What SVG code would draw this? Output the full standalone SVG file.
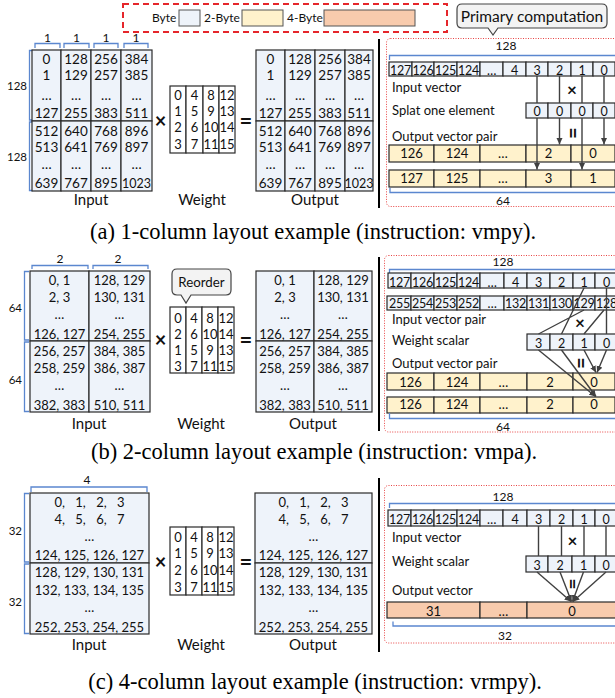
<svg xmlns="http://www.w3.org/2000/svg" width="615" height="698" viewBox="0 0 615 698">
<style>
text{font-family:Lato,'Open Sans','DejaVu Sans',sans-serif;fill:#111}
.m{font-size:13.5px;text-anchor:middle}
.s{font-size:13px;text-anchor:middle}
.v{font-size:12.5px;text-anchor:middle;letter-spacing:-0.3px}
.l{font-size:13px}
.n{font-size:11.5px;text-anchor:end}
.k{font-size:12px;text-anchor:middle}
.h{font-size:15px;text-anchor:middle}
.g{font-size:12px}
.cap{font-family:'Liberation Serif','Times New Roman',serif;font-size:22.5px;text-anchor:middle;fill:#000}
.op{font-weight:bold;text-anchor:middle}
.c1{fill:#EEF3FA;stroke:#2a2a2a;stroke-width:1.2}
.c2{fill:#FFF2CC;stroke:#2a2a2a;stroke-width:1.2}
.c4{fill:#F8CBAD;stroke:#2a2a2a;stroke-width:1.2}
.cw{fill:#fff;stroke:#2a2a2a;stroke-width:1.2}
.br{fill:none;stroke:#5B87CF;stroke-width:1.3}
.cn{fill:none;stroke:#404040;stroke-width:1.4}
.red{fill:none;stroke:#E84545;stroke-width:1;stroke-dasharray:1 1.5}
.sep{stroke:#000;stroke-width:2}
.call{fill:#F3F3F3;stroke:#444;stroke-width:1.2}
.ws{word-spacing:7px}
</style>
<defs>
<marker id="ah" markerWidth="7" markerHeight="7" refX="6.5" refY="3.5" orient="auto" markerUnits="userSpaceOnUse"><path d="M0,0.5 L6.5,3.5 L0,6.5 z" fill="#404040"/></marker>
</defs>

<g id="legend">
<rect x="123" y="4" width="324" height="28" fill="none" stroke="#E5262B" stroke-width="2" stroke-dasharray="6 4"/>
<text class="g" x="152" y="22">Byte</text>
<rect x="179" y="10" width="21" height="16" fill="#EEF3FA" stroke="#555" stroke-width="1"/>
<text class="g" x="204" y="22">2-Byte</text>
<rect x="242" y="10" width="41" height="16" fill="#FFF2CC" stroke="#555" stroke-width="1"/>
<text class="g" x="287" y="22">4-Byte</text>
<rect x="324" y="10" width="91" height="16" fill="#F8CBAD" stroke="#555" stroke-width="1"/>
</g>

<g id="callout-primary">
<path class="call" d="M462,4 H602 Q607,4 607,9 V23 Q607,28 602,28 H498 L493,35 L488,28 H462 Q457,28 457,23 V9 Q457,4 462,4 Z"/>
<text x="532" y="22" style="font-size:15.5px;text-anchor:middle">Primary computation</text>
</g>

<!-- ===== Part (a) ===== -->
<g id="a-input">
<path class="br" d="M35,48 V43.5 H60 V48 M64,48 V43.5 H89 V48 M94,48 V43.5 H118 V48 M124,48 V43.5 H148 V48"/>
<text class="k" x="47.5" y="42">1</text><text class="k" x="76.5" y="42">1</text><text class="k" x="106" y="42">1</text><text class="k" x="136" y="42">1</text>
<path class="br" d="M33,50.5 H29.5 V120 H33 M33,122 H29.5 V190.5 H33"/>
<text class="n" x="27" y="90">128</text><text class="n" x="27" y="161">128</text>
<rect class="c1" x="32" y="50" width="29" height="71"/><rect class="c1" x="61" y="50" width="30" height="71"/><rect class="c1" x="91" y="50" width="30" height="71"/><rect class="c1" x="121" y="50" width="31" height="71"/>
<rect class="c1" x="32" y="121" width="29" height="70"/><rect class="c1" x="61" y="121" width="30" height="70"/><rect class="c1" x="91" y="121" width="30" height="70"/><rect class="c1" x="121" y="121" width="31" height="70"/>
<text class="m"><tspan x="46.5" y="64">0</tspan><tspan x="46.5" y="80">1</tspan><tspan x="46.5" y="100">…</tspan><tspan x="46.5" y="118">127</tspan><tspan x="46.5" y="135.5">512</tspan><tspan x="46.5" y="152">513</tspan><tspan x="46.5" y="169">…</tspan><tspan x="46.5" y="188">639</tspan></text>
<text class="m"><tspan x="76" y="64">128</tspan><tspan x="76" y="80">129</tspan><tspan x="76" y="100">…</tspan><tspan x="76" y="118">255</tspan><tspan x="76" y="135.5">640</tspan><tspan x="76" y="152">641</tspan><tspan x="76" y="169">…</tspan><tspan x="76" y="188">767</tspan></text>
<text class="m"><tspan x="106" y="64">256</tspan><tspan x="106" y="80">257</tspan><tspan x="106" y="100">…</tspan><tspan x="106" y="118">383</tspan><tspan x="106" y="135.5">768</tspan><tspan x="106" y="152">769</tspan><tspan x="106" y="169">…</tspan><tspan x="106" y="188">895</tspan></text>
<text class="m"><tspan x="136.5" y="64">384</tspan><tspan x="136.5" y="80">385</tspan><tspan x="136.5" y="100">…</tspan><tspan x="136.5" y="118">511</tspan><tspan x="136.5" y="135.5">896</tspan><tspan x="136.5" y="152">897</tspan><tspan x="136.5" y="169">…</tspan><tspan x="136.5" y="188" style="font-size:12.5px">1023</tspan></text>
<text class="h" x="91" y="205">Input</text>
</g>
<g id="a-weight">
<rect class="cw" x="170" y="86" width="16" height="67"/><rect class="cw" x="186" y="86" width="17" height="67"/><rect class="cw" x="203" y="86" width="16" height="67"/><rect class="cw" x="219" y="86" width="16" height="67"/>
<text class="s"><tspan x="178" y="100">0</tspan><tspan x="178" y="116">1</tspan><tspan x="178" y="132">2</tspan><tspan x="178" y="149">3</tspan></text>
<text class="s"><tspan x="194.5" y="100">4</tspan><tspan x="194.5" y="116">5</tspan><tspan x="194.5" y="132">6</tspan><tspan x="194.5" y="149">7</tspan></text>
<text class="s"><tspan x="211" y="100">8</tspan><tspan x="211" y="116">9</tspan><tspan x="211" y="132">10</tspan><tspan x="211" y="149">11</tspan></text>
<text class="s"><tspan x="227" y="100">12</tspan><tspan x="227" y="116">13</tspan><tspan x="227" y="132">14</tspan><tspan x="227" y="149">15</tspan></text>
<text class="h" x="202" y="205">Weight</text>
</g>
<text class="op" x="160.5" y="127.5" font-size="20">×</text>
<text class="op" x="246" y="128.5" font-size="22">=</text>
<g id="a-output">
<rect class="c1" x="256" y="50" width="29" height="71"/><rect class="c1" x="285" y="50" width="30" height="71"/><rect class="c1" x="315" y="50" width="30" height="71"/><rect class="c1" x="345" y="50" width="28" height="71"/>
<rect class="c1" x="256" y="121" width="29" height="70"/><rect class="c1" x="285" y="121" width="30" height="70"/><rect class="c1" x="315" y="121" width="30" height="70"/><rect class="c1" x="345" y="121" width="28" height="70"/>
<text class="m"><tspan x="270.5" y="64">0</tspan><tspan x="270.5" y="80">1</tspan><tspan x="270.5" y="100">…</tspan><tspan x="270.5" y="118">127</tspan><tspan x="270.5" y="135.5">512</tspan><tspan x="270.5" y="152">513</tspan><tspan x="270.5" y="169">…</tspan><tspan x="270.5" y="188">639</tspan></text>
<text class="m"><tspan x="300" y="64">128</tspan><tspan x="300" y="80">129</tspan><tspan x="300" y="100">…</tspan><tspan x="300" y="118">255</tspan><tspan x="300" y="135.5">640</tspan><tspan x="300" y="152">641</tspan><tspan x="300" y="169">…</tspan><tspan x="300" y="188">767</tspan></text>
<text class="m"><tspan x="330" y="64">256</tspan><tspan x="330" y="80">257</tspan><tspan x="330" y="100">…</tspan><tspan x="330" y="118">383</tspan><tspan x="330" y="135.5">768</tspan><tspan x="330" y="152">769</tspan><tspan x="330" y="169">…</tspan><tspan x="330" y="188">895</tspan></text>
<text class="m"><tspan x="359" y="64">384</tspan><tspan x="359" y="80">385</tspan><tspan x="359" y="100">…</tspan><tspan x="359" y="118">511</tspan><tspan x="359" y="135.5">896</tspan><tspan x="359" y="152">897</tspan><tspan x="359" y="169">…</tspan><tspan x="359" y="188" style="font-size:12.5px">1023</tspan></text>
<text class="h" x="315" y="205">Output</text>
</g>
<line class="sep" x1="379" y1="39" x2="379" y2="208"/>

<g id="a-primary">
<rect class="red" x="386.5" y="38.5" width="240" height="168" rx="4"/>
<text class="k" x="506" y="50">128</text>
<path class="br" d="M389.5,60 V55.5 H620"/>
<rect class="c1" x="389" y="62" width="23" height="14"/><rect class="c1" x="412" y="62" width="22" height="14"/><rect class="c1" x="434" y="62" width="23" height="14"/><rect class="c1" x="457" y="62" width="23" height="14"/><rect class="c1" x="480" y="62" width="23" height="14"/><rect class="c1" x="503" y="62" width="23" height="14"/><rect class="c1" x="526" y="62" width="22" height="14"/><rect class="c1" x="548" y="62" width="23" height="14"/><rect class="c1" x="571" y="62" width="22" height="14"/><rect class="c1" x="593" y="62" width="22" height="14"/>
<text class="v"><tspan x="400.5" y="74.5">127</tspan><tspan x="423" y="74.5">126</tspan><tspan x="445.5" y="74.5">125</tspan><tspan x="468.5" y="74.5">124</tspan><tspan x="491.5" y="74.5">…</tspan><tspan x="514.5" y="74.5">4</tspan><tspan x="537" y="74.5">3</tspan><tspan x="559.5" y="74.5">2</tspan><tspan x="582" y="74.5">1</tspan><tspan x="604" y="74.5">0</tspan></text>
<text class="l" x="392" y="92">Input vector</text>
<rect class="c1" x="526" y="103" width="22" height="15"/><rect class="c1" x="548" y="103" width="23" height="15"/><rect class="c1" x="571" y="103" width="22" height="15"/><rect class="c1" x="593" y="103" width="22" height="15"/>
<text class="v"><tspan x="537" y="115.5">0</tspan><tspan x="559.5" y="115.5">0</tspan><tspan x="582" y="115.5">0</tspan><tspan x="604" y="115.5">0</tspan></text>
<text class="l" x="392" y="115">Splat one element</text>
<text class="op" x="572" y="95.5" font-size="17">×</text>
<text class="l" x="392" y="141">Output vector pair</text>
<text class="op" font-size="20" transform="translate(572,133) rotate(90)" x="0" y="6.5">=</text>
<rect class="c2" x="389" y="145" width="45" height="17"/><rect class="c2" x="434" y="145" width="46" height="17"/><rect class="c2" x="480" y="145" width="46" height="17"/><rect class="c2" x="526" y="145" width="45" height="17"/><rect class="c2" x="571" y="145" width="44" height="17"/>
<rect class="c2" x="389" y="170" width="45" height="17"/><rect class="c2" x="434" y="170" width="46" height="17"/><rect class="c2" x="480" y="170" width="46" height="17"/><rect class="c2" x="526" y="170" width="45" height="17"/><rect class="c2" x="571" y="170" width="44" height="17"/>
<text class="s"><tspan x="411.5" y="158">126</tspan><tspan x="457" y="158">124</tspan><tspan x="503" y="158">…</tspan><tspan x="548.5" y="158">2</tspan><tspan x="593" y="158">0</tspan></text>
<text class="s"><tspan x="411.5" y="183">127</tspan><tspan x="457" y="183">125</tspan><tspan x="503" y="183">…</tspan><tspan x="548.5" y="183">3</tspan><tspan x="593" y="183">1</tspan></text>
<path class="br" d="M390,188 V192.5 H620"/>
<text class="k" x="503" y="205">64</text>
</g>
<text class="cap" x="313" y="239">(a) 1-column layout example (instruction: vmpy).</text>

<!-- ===== Part (b) ===== -->
<g id="b-input">
<path class="br" d="M32,269 V265.5 H88 V269 M93,269 V265.5 H148 V269"/>
<text class="k" x="60" y="263">2</text><text class="k" x="118" y="263">2</text>
<path class="br" d="M29,271.5 H24.5 V340 H29 M29,342 H24.5 V411.5 H29"/>
<text class="n" x="22" y="312">64</text><text class="n" x="22" y="384">64</text>
<rect class="c1" x="30" y="271" width="59" height="70"/><rect class="c1" x="89" y="271" width="61" height="70"/>
<rect class="c1" x="30" y="341" width="59" height="71"/><rect class="c1" x="89" y="341" width="61" height="71"/>
<text class="s"><tspan x="59.5" y="285">0, 1</tspan><tspan x="59.5" y="302">2, 3</tspan><tspan x="59.5" y="319">…</tspan><tspan x="59.5" y="339">126, 127</tspan><tspan x="59.5" y="355.5">256, 257</tspan><tspan x="59.5" y="373">258, 259</tspan><tspan x="59.5" y="390">…</tspan><tspan x="59.5" y="410">382, 383</tspan></text>
<text class="s"><tspan x="119.5" y="285">128, 129</tspan><tspan x="119.5" y="302">130, 131</tspan><tspan x="119.5" y="319">…</tspan><tspan x="119.5" y="339">254, 255</tspan><tspan x="119.5" y="355.5">384, 385</tspan><tspan x="119.5" y="373">386, 387</tspan><tspan x="119.5" y="390">…</tspan><tspan x="119.5" y="410">510, 511</tspan></text>
<text class="h" x="89" y="429">Input</text>
</g>
<g id="b-weight">
<rect class="cw" x="170" y="307" width="16" height="66"/><rect class="cw" x="186" y="307" width="16" height="66"/><rect class="cw" x="202" y="307" width="16" height="66"/><rect class="cw" x="218" y="307" width="16" height="66"/>
<text class="s"><tspan x="178" y="322.5">0</tspan><tspan x="178" y="339">2</tspan><tspan x="178" y="355">1</tspan><tspan x="178" y="371">3</tspan></text>
<text class="s"><tspan x="194" y="322.5">4</tspan><tspan x="194" y="339">6</tspan><tspan x="194" y="355">5</tspan><tspan x="194" y="371">7</tspan></text>
<text class="s"><tspan x="210" y="322.5">8</tspan><tspan x="210" y="339">10</tspan><tspan x="210" y="355">9</tspan><tspan x="210" y="371">11</tspan></text>
<text class="s"><tspan x="226" y="322.5">12</tspan><tspan x="226" y="339">14</tspan><tspan x="226" y="355">13</tspan><tspan x="226" y="371">15</tspan></text>
<text class="h" x="201" y="429">Weight</text>
</g>
<g id="callout-reorder">
<path class="call" d="M177,269 H226 Q231,269 231,274 V290 Q231,295 226,295 H191 L186,303 L181,295 H177 Q172,295 172,290 V274 Q172,269 177,269 Z"/>
<text x="201.5" y="287" style="font-size:13.3px;text-anchor:middle">Reorder</text>
</g>
<text class="op" x="160.5" y="347" font-size="20">×</text>
<text class="op" x="246" y="347.5" font-size="22">=</text>
<g id="b-output">
<rect class="c1" x="256" y="271" width="58" height="70"/><rect class="c1" x="314" y="271" width="58" height="70"/>
<rect class="c1" x="256" y="341" width="58" height="71"/><rect class="c1" x="314" y="341" width="58" height="71"/>
<text class="s"><tspan x="285" y="285">0, 1</tspan><tspan x="285" y="302">2, 3</tspan><tspan x="285" y="319">…</tspan><tspan x="285" y="339">126, 127</tspan><tspan x="285" y="355.5">256, 257</tspan><tspan x="285" y="373">258, 259</tspan><tspan x="285" y="390">…</tspan><tspan x="285" y="410">382, 383</tspan></text>
<text class="s"><tspan x="343" y="285">128, 129</tspan><tspan x="343" y="302">130, 131</tspan><tspan x="343" y="319">…</tspan><tspan x="343" y="339">254, 255</tspan><tspan x="343" y="355.5">384, 385</tspan><tspan x="343" y="373">386, 387</tspan><tspan x="343" y="390">…</tspan><tspan x="343" y="410">510, 511</tspan></text>
<text class="h" x="313" y="429">Output</text>
</g>
<line class="sep" x1="379" y1="257" x2="379" y2="431"/>

<g id="b-primary">
<rect class="red" x="384.5" y="255.5" width="240" height="176.5" rx="4"/>
<text class="k" x="503" y="266">128</text>
<path class="br" d="M389.5,273 V269.5 H620"/>
<rect class="c1" x="388" y="273" width="23" height="15"/><rect class="c1" x="411" y="273" width="23" height="15"/><rect class="c1" x="434" y="273" width="23" height="15"/><rect class="c1" x="457" y="273" width="23" height="15"/><rect class="c1" x="480" y="273" width="24" height="15"/><rect class="c1" x="504" y="273" width="23" height="15"/><rect class="c1" x="527" y="273" width="23" height="15"/><rect class="c1" x="550" y="273" width="23" height="15"/><rect class="c1" x="573" y="273" width="22" height="15"/><rect class="c1" x="595" y="273" width="23" height="15"/>
<text class="v"><tspan x="399.5" y="286.5">127</tspan><tspan x="422.5" y="286.5">126</tspan><tspan x="445.5" y="286.5">125</tspan><tspan x="468.5" y="286.5">124</tspan><tspan x="492" y="286.5">…</tspan><tspan x="515.5" y="286.5">4</tspan><tspan x="538.5" y="286.5">3</tspan><tspan x="561.5" y="286.5">2</tspan><tspan x="584" y="286.5">1</tspan><tspan x="606.5" y="286.5">0</tspan></text>
<rect class="c1" x="387" y="296" width="24" height="14"/><rect class="c1" x="411" y="296" width="23" height="14"/><rect class="c1" x="434" y="296" width="23" height="14"/><rect class="c1" x="457" y="296" width="23" height="14"/><rect class="c1" x="480" y="296" width="24" height="14"/><rect class="c1" x="504" y="296" width="23" height="14"/><rect class="c1" x="527" y="296" width="23" height="14"/><rect class="c1" x="550" y="296" width="23" height="14"/><rect class="c1" x="573" y="296" width="22" height="14"/><rect class="c1" x="595" y="296" width="23" height="14"/>
<text class="v"><tspan x="399.5" y="308">255</tspan><tspan x="422.5" y="308">254</tspan><tspan x="445.5" y="308">253</tspan><tspan x="468.5" y="308">252</tspan><tspan x="492" y="308">…</tspan><tspan x="515.5" y="308">132</tspan><tspan x="538.5" y="308">131</tspan><tspan x="561.5" y="308">130</tspan><tspan x="584" y="308">129</tspan><tspan x="606.5" y="308">128</tspan></text>
<text class="l" x="392" y="324">Input vector pair</text>
<text class="l" x="392" y="345">Weight scalar</text>
<rect class="c1" x="527" y="334" width="23" height="16"/><rect class="c1" x="550" y="334" width="23" height="16"/><rect class="c1" x="573" y="334" width="22" height="16"/><rect class="c1" x="595" y="334" width="23" height="16"/>
<text class="v"><tspan x="538.5" y="347.5">3</tspan><tspan x="561.5" y="347.5">2</tspan><tspan x="584" y="347.5">1</tspan><tspan x="606.5" y="347.5">0</tspan></text>
<text class="op" x="580" y="328.5" font-size="17">×</text>
<text class="l" x="392" y="368">Output vector pair</text>
<text class="op" font-size="20" transform="translate(580,363) rotate(90)" x="0" y="6.5">=</text>
<rect class="c2" x="387" y="373" width="47" height="17"/><rect class="c2" x="434" y="373" width="46" height="17"/><rect class="c2" x="480" y="373" width="47" height="17"/><rect class="c2" x="527" y="373" width="46" height="17"/><rect class="c2" x="573" y="373" width="42" height="17"/>
<rect class="c2" x="387" y="397" width="47" height="16"/><rect class="c2" x="434" y="397" width="46" height="16"/><rect class="c2" x="480" y="397" width="47" height="16"/><rect class="c2" x="527" y="397" width="46" height="16"/><rect class="c2" x="573" y="397" width="42" height="16"/>
<text class="s"><tspan x="410.5" y="386.5">126</tspan><tspan x="457" y="386.5">124</tspan><tspan x="503.5" y="386.5">…</tspan><tspan x="550" y="386.5">2</tspan><tspan x="594" y="386.5">0</tspan></text>
<text class="s"><tspan x="410.5" y="409">126</tspan><tspan x="457" y="409">124</tspan><tspan x="503.5" y="409">…</tspan><tspan x="550" y="409">2</tspan><tspan x="594" y="409">0</tspan></text>
<path class="br" d="M389.5,413 V418.5 H620"/>
<text class="k" x="503" y="430.5">64</text>
</g>
<text class="cap" x="314" y="459">(b) 2-column layout example (instruction: vmpa).</text>

<!-- ===== Part (c) ===== -->
<g id="c-input">
<path class="br" d="M31,492 V487 H147 V492"/>
<text class="k" x="87" y="484">4</text>
<path class="br" d="M29,493.5 H24.5 V562 H29 M29,564 H24.5 V633.5 H29"/>
<text class="n" x="22" y="535">32</text><text class="n" x="22" y="606">32</text>
<rect class="c1" x="30" y="493" width="119" height="70"/><rect class="c1" x="30" y="563" width="119" height="71"/>
<text class="s"><tspan x="89.5" y="507" class="ws">0, 1, 2, 3</tspan><tspan x="89.5" y="524" class="ws">4, 5, 6, 7</tspan><tspan x="89.5" y="541">…</tspan><tspan x="89.5" y="560">124, 125, 126, 127</tspan><tspan x="89.5" y="577">128, 129, 130, 131</tspan><tspan x="89.5" y="594.5">132, 133, 134, 135</tspan><tspan x="89.5" y="612">…</tspan><tspan x="89.5" y="631.5">252, 253, 254, 255</tspan></text>
<text class="h" x="89" y="649.5">Input</text>
</g>
<g id="c-weight">
<rect class="cw" x="170" y="527" width="16" height="68"/><rect class="cw" x="186" y="527" width="16" height="68"/><rect class="cw" x="202" y="527" width="16" height="68"/><rect class="cw" x="218" y="527" width="16" height="68"/>
<text class="s"><tspan x="178" y="542">0</tspan><tspan x="178" y="558">1</tspan><tspan x="178" y="575">2</tspan><tspan x="178" y="592">3</tspan></text>
<text class="s"><tspan x="194" y="542">4</tspan><tspan x="194" y="558">5</tspan><tspan x="194" y="575">6</tspan><tspan x="194" y="592">7</tspan></text>
<text class="s"><tspan x="210" y="542">8</tspan><tspan x="210" y="558">9</tspan><tspan x="210" y="575">10</tspan><tspan x="210" y="592">11</tspan></text>
<text class="s"><tspan x="226" y="542">12</tspan><tspan x="226" y="558">13</tspan><tspan x="226" y="575">14</tspan><tspan x="226" y="592">15</tspan></text>
<text class="h" x="201" y="649.5">Weight</text>
</g>
<text class="op" x="160.5" y="569" font-size="20">×</text>
<text class="op" x="246" y="569.5" font-size="22">=</text>
<g id="c-output">
<rect class="c1" x="255" y="493" width="117" height="70"/><rect class="c1" x="255" y="563" width="117" height="71"/>
<text class="s"><tspan x="313.5" y="507" class="ws">0, 1, 2, 3</tspan><tspan x="313.5" y="524" class="ws">4, 5, 6, 7</tspan><tspan x="313.5" y="541">…</tspan><tspan x="313.5" y="560">124, 125, 126, 127</tspan><tspan x="313.5" y="577">128, 129, 130, 131</tspan><tspan x="313.5" y="594.5">132, 133, 134, 135</tspan><tspan x="313.5" y="612">…</tspan><tspan x="313.5" y="631.5">252, 253, 254, 255</tspan></text>
<text class="h" x="313" y="649.5">Output</text>
</g>
<line class="sep" x1="379" y1="478" x2="379" y2="652"/>

<g id="c-primary">
<rect class="red" x="384.5" y="485.5" width="240" height="157.5" rx="4"/>
<text class="k" x="503" y="500.5">128</text>
<path class="br" d="M389.5,508 V503.5 H620"/>
<rect class="c1" x="388" y="510" width="23" height="16"/><rect class="c1" x="411" y="510" width="23" height="16"/><rect class="c1" x="434" y="510" width="23" height="16"/><rect class="c1" x="457" y="510" width="23" height="16"/><rect class="c1" x="480" y="510" width="23" height="16"/><rect class="c1" x="503" y="510" width="24" height="16"/><rect class="c1" x="527" y="510" width="23" height="16"/><rect class="c1" x="550" y="510" width="23" height="16"/><rect class="c1" x="573" y="510" width="22" height="16"/><rect class="c1" x="595" y="510" width="22" height="16"/>
<text class="v"><tspan x="399.5" y="524">127</tspan><tspan x="422.5" y="524">126</tspan><tspan x="445.5" y="524">125</tspan><tspan x="468.5" y="524">124</tspan><tspan x="491.5" y="524">…</tspan><tspan x="515" y="524">4</tspan><tspan x="538.5" y="524">3</tspan><tspan x="561.5" y="524">2</tspan><tspan x="584" y="524">1</tspan><tspan x="606" y="524">0</tspan></text>
<text class="l" x="392" y="542">Input vector</text>
<text class="op" x="572.5" y="547" font-size="17">×</text>
<rect class="c1" x="526" y="556" width="22" height="16"/><rect class="c1" x="548" y="556" width="24" height="16"/><rect class="c1" x="572" y="556" width="23" height="16"/><rect class="c1" x="595" y="556" width="22" height="16"/>
<text class="v"><tspan x="537" y="569.5">3</tspan><tspan x="560" y="569.5">2</tspan><tspan x="583.5" y="569.5">1</tspan><tspan x="606" y="569.5">0</tspan></text>
<text class="l" x="392" y="566">Weight scalar</text>
<text class="op" font-size="19" transform="translate(572,584) rotate(90)" x="0" y="6.2">=</text>
<text class="l" x="392" y="595">Output vector</text>
<rect class="c4" x="387" y="602" width="93" height="16"/><rect class="c4" x="480" y="602" width="47" height="16"/><rect class="c4" x="527" y="602" width="90" height="16"/>
<text class="s"><tspan x="433.5" y="615.5">31</tspan><tspan x="503.5" y="615.5">…</tspan><tspan x="572" y="615.5">0</tspan></text>
<path class="br" d="M393,621.5 V626 H620"/>
<text class="k" x="505" y="640">32</text>
</g>
<text class="cap" x="315" y="689">(c) 4-column layout example (instruction: vrmpy).</text>

<g id="connectors">
<path class="cn" d="M537,76 V103 M559.5,76 V103 M582,76 V103 M604,76 V103"/>
<path class="cn" marker-end="url(#ah)" d="M537,118 V169.5"/>
<path class="cn" marker-end="url(#ah)" d="M559.5,118 V144.5"/>
<path class="cn" marker-end="url(#ah)" d="M582,118 V169.5"/>
<path class="cn" marker-end="url(#ah)" d="M604,118 V144.5"/>
<path class="cn" d="M606.5,288 V334 M584,288 L561.5,334 M604,310 L584,334 M584,310 L538.5,334"/>
<path class="cn" marker-end="url(#ah)" d="M584,350 L596,372.5"/>
<path class="cn" marker-end="url(#ah)" d="M606.5,350 L597,372.5"/>
<path class="cn" marker-end="url(#ah)" d="M538.5,350 L595.5,396.5"/>
<path class="cn" marker-end="url(#ah)" d="M561.5,350 L596,396.5"/>
<path class="cn" d="M538.5,526 V556 M561.5,526 V556 M584,526 V556 M606,526 V556"/>
<path class="cn" marker-end="url(#ah)" d="M537,572 L571,601.5"/>
<path class="cn" marker-end="url(#ah)" d="M560,572 L571.5,601.5"/>
<path class="cn" marker-end="url(#ah)" d="M583.5,572 L572.5,601.5"/>
<path class="cn" marker-end="url(#ah)" d="M606,572 L573,601.5"/>
</g>
</svg>
